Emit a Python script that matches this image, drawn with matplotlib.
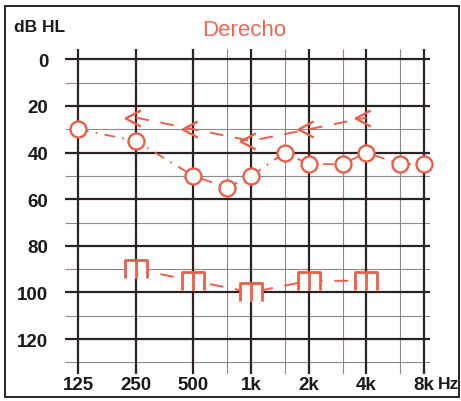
import numpy as np
import matplotlib
matplotlib.use('Agg')
import matplotlib.pyplot as plt
from matplotlib.path import Path
from matplotlib.patches import Rectangle

"""
    Audiogram - right ear
"""

# air conduction (circles)
air_freqs = [125, 250, 500, 750, 1000, 1500, 2000, 3000, 4000, 6000, 8000]
air_db = [30, 35, 50, 55, 50, 40, 45, 45, 40, 45, 45]

# bone conduction (<)
bone_freqs = [250, 500, 1000, 2000, 4000]
bone_db = [25, 30, 35, 30, 25]

# masked bone ("m" symbol)
masked_freqs = [250, 500, 1000, 2000, 4000]
masked_db = [90, 95, 100, 95, 95]

major_freqs = [125, 250, 500, 1000, 2000, 4000, 8000]
minor_freqs = [750, 1500, 3000, 6000]
freq_labels = ['125', '250', '500', '1k', '2k', '4k', '8k']
db_ticks = [0, 20, 40, 60, 80, 100, 120]
db_minor = [10, 30, 50, 70, 90, 110, 130]

RED = '#e8604b'
DARK = '#2b2222'

plt.rcParams['font.family'] = ['Liberation Sans', 'DejaVu Sans']

fig = plt.figure(figsize=(4.61, 4.02), dpi=100)
ax = fig.add_axes([0.141, 0.067, 0.792, 0.808])
ax.set_xscale('log', base=2)
x0, x1 = 107, 8590
y0, y1 = 135, -4.3
ax.set_xlim(x0, x1)
ax.set_ylim(y0, y1)

# grid
ax.hlines(db_minor, x0, x1, color='#8f8888', lw=0.8, zorder=1)
ax.vlines(minor_freqs, y1, y0, color='#8f8888', lw=0.8, zorder=1)
ax.hlines(db_ticks, x0, x1, color=DARK, lw=1.6, zorder=2)
ax.vlines(major_freqs, y1, y0, color=DARK, lw=1.6, zorder=2)

for s in ax.spines.values():
    s.set_visible(False)

ax.set_xticks(major_freqs)
ax.set_xticklabels(freq_labels)
ax.set_yticks(db_ticks)
ax.set_yticklabels([str(v) for v in db_ticks])
ax.minorticks_off()
ax.tick_params(axis='y', length=0, pad=12, labelsize=13.5)
ax.tick_params(axis='x', length=0, pad=1.5, labelsize=13.5)
for lab in ax.get_xticklabels() + ax.get_yticklabels():
    lab.set_fontweight('bold')
    lab.set_color('#1a1a1a')

# markers
chevron = Path([(0.4, 0.75), (-1, 0), (0.4, -0.75)],
               [Path.MOVETO, Path.LINETO, Path.LINETO])
m_sym = Path([(-1, -0.78), (-1, 0.78), (1, 0.78), (1, -0.78), (0, 0.78), (0, -0.78)],
             [Path.MOVETO, Path.LINETO, Path.LINETO, Path.LINETO,
              Path.MOVETO, Path.LINETO])

ax.plot(air_freqs, air_db, color=RED, lw=1.3, ls=(0, (6, 4, 1, 4)),
        marker='o', ms=11.5, mfc='white', mec=RED, mew=1.7, zorder=5, clip_on=False)
ax.plot(bone_freqs, bone_db, color=RED, lw=1.4, ls=(0, (7, 6)),
        marker=chevron, ms=15.5, mfc='none', mec=RED, mew=1.7, zorder=5)
ax.plot(masked_freqs, masked_db, color=RED, lw=1.4, ls=(0, (7, 6)),
        marker=m_sym, ms=16.5, mfc='white', mec=RED, mew=2.0, zorder=5)

# texts
fig.text(0.53, 1 - 31 / 402, 'Derecho', ha='center', va='center',
         color='#e86a56', fontsize=16)
fig.text(14 / 461, 1 - 28 / 402, 'dB HL', ha='left', va='center',
         fontsize=12.5, fontweight='bold', color='#1a1a1a')
fig.text(459 / 461, 1 - 385 / 402, 'Hz', ha='right', va='center',
         fontsize=12.5, fontweight='bold', color='#1a1a1a')

# outer frame
fig.patches.append(Rectangle((0.011, 0.01), 0.985, 0.972, transform=fig.transFigure,
                             fill=False, ec=DARK, lw=1.4))

fig.savefig('out.png', dpi=100)
